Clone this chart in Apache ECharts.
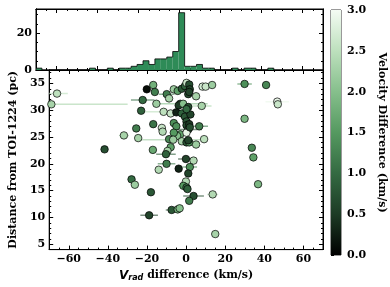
<!DOCTYPE html>
<html><head><meta charset="utf-8">
<script src="https://cdn.jsdelivr.net/npm/echarts@6/dist/echarts.min.js"></script>
<style>html,body{margin:0;padding:0;background:#fff}#c{width:390px;height:287px}</style>
</head><body><div id="c"></div>
<script>
// ---- data ----
const histStart = -70;
const histWidth = 2.9;
const histCounts = [1,0,0,0,0,0,0,0,0,1, 0,0,1,0,1,1,2,3,5,3, 6,6,7,10,31,2,2,3,1,1, 0,0,0,1,0,1,1,0,0,1];
const xTicks = [-60,-40,-20,0,20,40,60];
const xMinor = [-65,-55,-50,-45,-35,-30,-25,-15,-10,-5,5,10,15,25,30,35,45,50,55,65];
const yTicks = [5,10,15,20,25,30,35];
const yMinor = [4,6,7,8,9,11,12,13,14,16,17,18,19,21,22,23,24,26,27,28,29,31,32,33,34,36,37];
const histTicks = [0,20];
const histMinor = [5,10,15,25,30];
const cbarTicks = [0,0.5,1,1.5,2,2.5,3];

const vrad = [-66.0,-68.9,-41.7,-31.8,-24.5,-25.5,-23.0,-22.2,-20.1,-16.8,-16.0,-15.2,-9.9,-8.7,-6.3,-4.3,-2.2,-0.6,0.2,1.6,
  1.9,1.1,5.1,8.4,10.0,13.3,-3.0,-3.8,-1.5,1.1,-11.5,-7.9,-5.0,-2.2,-0.6,0.2,-16.8,-12.4,-12.0,-6.3,
  -5.0,0.2,1.1,6.7,-3.0,0.2,-4.6,-6.3,-8.7,-6.6,-7.9,-2.2,0.2,1.6,9.2,5.1,-17.0,-9.5,-10.3,-0.1,
  3.8,-10.0,-14.0,-3.8,1.9,1.1,-0.1,-1.4,0.2,0.7,-18.0,3.8,1.6,13.6,-7.4,-4.3,-3.3,-18.9,14.9,-27.9,
  -26.2,36.8,29.9,40.9,46.6,46.9,29.9,33.6,34.4,8.0,1.6,2.2,1.6,1.9,1.1,0.2];
const dist = [33.1,31.1,22.7,25.3,24.8,26.6,29.9,31.9,33.9,34.7,33.4,31.2,33.0,32.2,33.9,33.6,34.0,34.5,35.1,34.8,
  33.9,33.0,32.6,34.4,34.4,34.7,31.2,30.9,31.2,30.6,29.7,29.4,29.6,29.4,28.8,27.9,27.4,26.7,26.0,27.6,
  27.0,27.2,26.4,27.0,25.5,25.8,25.2,25.8,24.6,24.5,23.1,24.2,24.0,24.0,24.6,23.6,22.6,22.4,21.8,20.9,
  20.6,20.0,18.9,19.1,19.4,18.2,16.7,15.9,15.6,15.3,14.7,14.0,13.1,14.3,11.4,11.5,11.7,10.4,6.9,17.1,
  16.1,16.2,34.9,34.7,31.6,31.1,28.4,23.0,21.2,30.8,33.4,29.2,27.4,26.8,24.4,30.2];
const vdiff = [2.5,2.3,0.7,2.3,2.3,1.2,0.9,1.0,0.1,1.8,1.2,2.2,1.2,2.3,2.2,1.6,0.8,0.9,2.6,0.7,
  0.6,0.7,2.3,2.7,2.6,2.2,0.8,0.5,2.0,0.7,2.5,2.6,0.3,0.9,0.8,0.8,1.1,2.6,2.4,1.4,
  1.4,0.7,0.8,1.2,1.6,2.9,2.0,1.5,1.3,2.2,1.6,2.3,0.8,1.4,2.5,2.2,1.7,2.3,0.9,0.6,
  2.4,1.2,2.4,0.3,1.4,0.6,2.4,1.5,1.1,0.9,0.8,0.7,1.2,2.4,0.8,1.8,2.0,0.6,2.3,1.0,
  2.2,1.9,1.4,1.3,2.9,2.6,1.9,1.3,1.6,2.3,0.6,0.6,0.5,0.7,0.6,1.0];
const vradErr = [5.5,39,0,2.5,0,0,0,6,0,0,0,0,4,0,0,0,0,0,0,0,
  0,0,0,0,0,0,0,0,12.5,0,13,0,0,0,0,0,0,0,0,0,
  0,0,7,4.5,0,0,0,0,0,17.4,0,0,0,0,0,0,0,0,5,4,
  0,4.5,0,0,3.7,0,0,2.5,0,0,0,5.3,0,2.8,3,0,0,4.5,0,0,
  0,0,3.7,0,6,0,0,0,0,5,0,2,0,0,0,0];

// ---- styles ----
const cmap = ['#000000','#1d3b25','#346a42','#559960','#86bf8c','#bde0bd','#f4fbf3'];
const F = {fontFamily:'DejaVu Serif', fontWeight:'bold', fontSize:11, color:'#000'};
const blk = {color:'#000', width:1};
const fmtMinus = v => String(v).replace('-', '\u2212');

function ax(grid, pos, min, max, ticks, len, labels, extra) {
  return Object.assign({
    gridIndex: grid, type:'value', position: pos, min, max,
    axisLine:{show:true, onZero:false, lineStyle:blk},
    axisTick:{show:true, inside:true, length:len, customValues:ticks, lineStyle:blk},
    axisLabel: labels ? Object.assign({show:true, customValues:ticks, margin:4, formatter:fmtMinus}, F) : {show:false},
    splitLine:{show:false}
  }, extra || {});
}

const pts = vrad.map((v,i)=>[v, dist[i], vdiff[i], vradErr[i]]);
const histData = histCounts.map((c,i)=>[histStart+i*histWidth, histStart+(i+1)*histWidth, c, i?histCounts[i-1]:0, i===histCounts.length-1?1:0]);

const chart = echarts.init(document.getElementById('c'), null, {renderer:'canvas'});
const grad = new echarts.graphic.LinearGradient(0,1,0,0, cmap.map((c,i)=>({offset:i/(cmap.length-1), color:c})));

chart.setOption({
  animation:false,
  backgroundColor:'#fff',
  grid:[
    {left:36, right:67, top:9, height:61, show:true, borderColor:'#000', borderWidth:1},
    {left:36, right:67, top:70, bottom:33, show:true, borderColor:'#000', borderWidth:1},
    {left:331, width:10, top:10, height:245, show:true, borderColor:'#000', borderWidth:0.8}
  ],
  xAxis:[
    ax(0,'bottom',-70,70,xTicks,4,false),
    ax(0,'top',-70,70,xTicks,4,false),
    ax(0,'bottom',-70,70,xMinor,2,false),
    ax(0,'top',-70,70,xMinor,2,false),
    ax(1,'bottom',-70,70,xTicks,4,true,{
      name:'{v|V}{s|rad} difference (km/s)', nameLocation:'middle', nameGap:11,
      nameTextStyle:Object.assign({}, F, {fontSize:11, rich:{
        v:{fontFamily:'DejaVu Sans', fontStyle:'italic', fontWeight:'bold', fontSize:12, color:'#000'},
        s:{fontFamily:'DejaVu Sans', fontStyle:'italic', fontWeight:'bold', fontSize:8, color:'#000', verticalAlign:'bottom', padding:[5,0,0,0]}
      }})
    }),
    ax(1,'bottom',-70,70,xMinor,2,false),
    ax(1,'top',-70,70,xTicks,4,false),
    ax(1,'top',-70,70,xMinor,2,false),
    {gridIndex:2, type:'value', min:0, max:1, show:false}
  ],
  yAxis:[
    ax(0,'left',0,33,histTicks,4,true),
    ax(0,'left',0,33,histMinor,2,false),
    ax(0,'right',0,33,histTicks,4,false),
    ax(0,'right',0,33,histMinor,2,false),
    ax(1,'left',4,37.5,yTicks,4,true,{
      name:'Distance from TOI-1224 (pc)', nameLocation:'middle', nameGap:26,
      nameTextStyle:Object.assign({}, F, {fontSize:11})
    }),
    ax(1,'left',4,37.5,yMinor,2,false),
    ax(1,'right',4,37.5,yTicks,4,false),
    ax(1,'right',4,37.5,yMinor,2,false),
    {gridIndex:2, type:'value', position:'right', min:0, max:3,
      axisLine:{show:false},
      axisTick:{show:true, inside:false, length:3, customValues:cbarTicks, lineStyle:blk},
      axisLabel:Object.assign({show:true, customValues:cbarTicks, margin:6, formatter:v=>v.toFixed(1)}, F),
      splitLine:{show:false},
      name:'Velocity Difference (km/s)', nameLocation:'middle', nameGap:35, nameRotate:-90,
      nameTextStyle:Object.assign({}, F, {fontSize:11})
    }
  ],
  visualMap:[{show:false, type:'continuous', min:0, max:3, dimension:2, seriesIndex:[1,2], inRange:{color:cmap}}],
  series:[
    {type:'custom', xAxisIndex:0, yAxisIndex:0, clip:true, data:histData, z:2,
      renderItem:(params, api)=>{
        const x0=api.value(0), x1=api.value(1), c=api.value(2), prev=api.value(3), last=api.value(4);
        const a=api.coord([x0,c]), b=api.coord([x1,0]), pp=api.coord([x0,prev]);
        const ch=[];
        if (c>0) ch.push({type:'rect', shape:{x:a[0], y:a[1], width:b[0]-a[0], height:b[1]-a[1]}, style:{fill:'#2e8b57'}});
        const pl=[[a[0],pp[1]],[a[0],a[1]],[b[0],a[1]]];
        if (last) pl.push([b[0],b[1]]);
        ch.push({type:'polyline', shape:{points:pl}, style:{stroke:'#000', lineWidth:0.8, fill:null}});
        return {type:'group', children:ch};
      }},
    {type:'custom', xAxisIndex:4, yAxisIndex:4, clip:true, data:pts, z:3,
      renderItem:(params, api)=>{
        const x=api.value(0), y=api.value(1), e=api.value(3);
        if (!e) return null;
        const p1=api.coord([x-e,y]), p2=api.coord([x+e,y]);
        return {type:'line', shape:{x1:p1[0],y1:p1[1],x2:p2[0],y2:p2[1]}, style:{stroke:api.visual('color'), lineWidth:1.5, opacity:0.6}};
      }},
    {type:'scatter', xAxisIndex:4, yAxisIndex:4, data:pts, symbolSize:7.5, z:4,
      itemStyle:{borderColor:'#000', borderWidth:0.7, opacity:1}},
    {type:'custom', xAxisIndex:8, yAxisIndex:8, data:[[0,1,0,3]], z:1,
      renderItem:(params, api)=>{
        const a=api.coord([api.value(0), api.value(3)]), b=api.coord([api.value(1), api.value(2)]);
        return {type:'rect', shape:{x:a[0], y:a[1], width:b[0]-a[0], height:b[1]-a[1]}, style:{fill:grad}};
      }}
  ]
});
</script></body></html>
